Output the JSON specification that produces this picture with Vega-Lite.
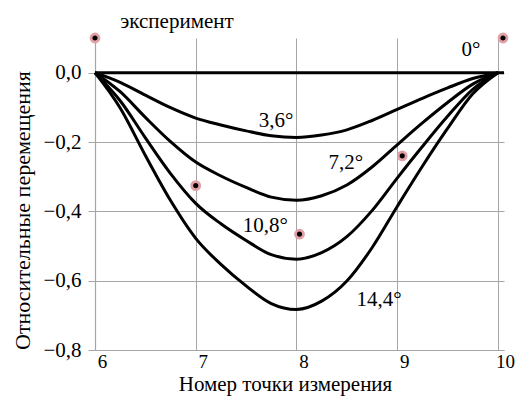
{
  "$schema": "https://vega.github.io/schema/vega-lite/v6.json",
  "autosize": "none",
  "padding": {"left": 95, "top": 38, "right": 16, "bottom": 49},
  "width": 409,
  "height": 312,
  "background": "white",
  "config": {
    "font": "Liberation Serif",
    "view": {"stroke": null},
    "axis": {
      "labelFont": "Liberation Serif", "titleFont": "Liberation Serif",
      "labelFontSize": 21, "titleFontSize": 21, "labelColor": "black", "titleColor": "black",
      "titleFontWeight": "normal", "gridColor": "#a6a6a6", "domainColor": "#a6a6a6", "tickColor": "#a6a6a6",
      "gridWidth": 1, "domainWidth": 1.2
    }
  },
  "datasets": {
    "curves": [
      {"s": "0", "x": 6, "y": 0}, {"s": "0", "x": 10.06, "y": 0},
      {"s": "3.6", "x": 6, "y": 0}, {"s": "3.6", "x": 6.25, "y": -0.028}, {"s": "3.6", "x": 6.5, "y": -0.065}, {"s": "3.6", "x": 6.75, "y": -0.101}, {"s": "3.6", "x": 7.0, "y": -0.131}, {"s": "3.6", "x": 7.25, "y": -0.151}, {"s": "3.6", "x": 7.5, "y": -0.168}, {"s": "3.6", "x": 7.75, "y": -0.182}, {"s": "3.6", "x": 8.0, "y": -0.187}, {"s": "3.6", "x": 8.25, "y": -0.18}, {"s": "3.6", "x": 8.5, "y": -0.165}, {"s": "3.6", "x": 8.75, "y": -0.138}, {"s": "3.6", "x": 9.0, "y": -0.106}, {"s": "3.6", "x": 9.25, "y": -0.074}, {"s": "3.6", "x": 9.5, "y": -0.044}, {"s": "3.6", "x": 9.75, "y": -0.017}, {"s": "3.6", "x": 10, "y": 0},
      {"s": "7.2", "x": 6, "y": 0}, {"s": "7.2", "x": 6.25, "y": -0.055}, {"s": "7.2", "x": 6.5, "y": -0.129}, {"s": "7.2", "x": 6.75, "y": -0.199}, {"s": "7.2", "x": 7.0, "y": -0.258}, {"s": "7.2", "x": 7.25, "y": -0.298}, {"s": "7.2", "x": 7.5, "y": -0.331}, {"s": "7.2", "x": 7.75, "y": -0.359}, {"s": "7.2", "x": 8.0, "y": -0.368}, {"s": "7.2", "x": 8.25, "y": -0.355}, {"s": "7.2", "x": 8.5, "y": -0.324}, {"s": "7.2", "x": 8.75, "y": -0.272}, {"s": "7.2", "x": 9.0, "y": -0.208}, {"s": "7.2", "x": 9.25, "y": -0.145}, {"s": "7.2", "x": 9.5, "y": -0.086}, {"s": "7.2", "x": 9.75, "y": -0.033}, {"s": "7.2", "x": 10, "y": 0},
      {"s": "10.8", "x": 6, "y": 0}, {"s": "10.8", "x": 6.25, "y": -0.081}, {"s": "10.8", "x": 6.5, "y": -0.188}, {"s": "10.8", "x": 6.75, "y": -0.291}, {"s": "10.8", "x": 7.0, "y": -0.377}, {"s": "10.8", "x": 7.25, "y": -0.436}, {"s": "10.8", "x": 7.5, "y": -0.484}, {"s": "10.8", "x": 7.75, "y": -0.525}, {"s": "10.8", "x": 8.0, "y": -0.538}, {"s": "10.8", "x": 8.25, "y": -0.519}, {"s": "10.8", "x": 8.5, "y": -0.473}, {"s": "10.8", "x": 8.75, "y": -0.398}, {"s": "10.8", "x": 9.0, "y": -0.304}, {"s": "10.8", "x": 9.25, "y": -0.213}, {"s": "10.8", "x": 9.5, "y": -0.126}, {"s": "10.8", "x": 9.75, "y": -0.048}, {"s": "10.8", "x": 10, "y": 0},
      {"s": "14.4", "x": 6, "y": 0}, {"s": "14.4", "x": 6.25, "y": -0.102}, {"s": "14.4", "x": 6.5, "y": -0.239}, {"s": "14.4", "x": 6.75, "y": -0.369}, {"s": "14.4", "x": 7.0, "y": -0.478}, {"s": "14.4", "x": 7.25, "y": -0.553}, {"s": "14.4", "x": 7.5, "y": -0.615}, {"s": "14.4", "x": 7.75, "y": -0.666}, {"s": "14.4", "x": 8.0, "y": -0.683}, {"s": "14.4", "x": 8.25, "y": -0.659}, {"s": "14.4", "x": 8.5, "y": -0.601}, {"s": "14.4", "x": 8.75, "y": -0.505}, {"s": "14.4", "x": 9.0, "y": -0.386}, {"s": "14.4", "x": 9.25, "y": -0.27}, {"s": "14.4", "x": 9.5, "y": -0.161}, {"s": "14.4", "x": 9.75, "y": -0.061}, {"s": "14.4", "x": 10, "y": 0}
    ],
    "points": [
      {"x": 6, "y": 0.1}, {"x": 10.05, "y": 0.1}, {"x": 7.0, "y": -0.326}, {"x": 8.03, "y": -0.466}, {"x": 9.05, "y": -0.24}
    ],
    "labels": [
      {"x": 6.814, "y": 0.146, "t": "эксперимент"},
      {"x": 9.732, "y": 0.0654, "t": "0°"},
      {"x": 7.797, "y": -0.139, "t": "3,6°"},
      {"x": 8.49, "y": -0.26, "t": "7,2°"},
      {"x": 7.69, "y": -0.442, "t": "10,8°"},
      {"x": 8.82, "y": -0.656, "t": "14,4°"}
    ]
  },
  "layer": [
    {
      "data": {"name": "curves"},
      "mark": {"type": "line", "interpolate": "monotone", "color": "black", "strokeWidth": 3},
      "encoding": {
        "x": {"field": "x", "type": "quantitative", "scale": {"domain": [6, 10.06], "nice": false, "zero": false},
          "axis": {"values": [6, 7, 8, 9, 10], "format": "d", "ticks": false, "labelPadding": 2, "labelOffset": 7, "labelFlush": false,
            "labelFont": "Liberation Serif", "labelFontSize": 19, "titleFont": "Liberation Serif", "titleFontSize": 21,
            "title": "Номер точки измерения", "titlePadding": 2, "titleX": 190, "domain": true}},
        "y": {"field": "y", "type": "quantitative", "scale": {"domain": [-0.8, 0.1], "nice": false, "zero": false},
          "axis": {"values": [0, -0.2, -0.4, -0.6, -0.8], "tickSize": 7, "labelPadding": 7,
            "labelFont": "Liberation Serif", "titleFont": "Liberation Serif", "titleFontSize": 22,
            "labelExpr": "replace(format(datum.value, '.1f'), '.', ',')",
            "title": "Относительные перемещения", "titleX": -73, "titleY": 172, "titleAlign": "center", "titleBaseline": "middle", "titleAngle": -90}},
        "detail": {"field": "s"},
        "strokeWidth": {"condition": {"test": "datum.s === '0'", "value": 4}, "value": 3}
      }
    },
    {
      "data": {"name": "points"},
      "mark": {"type": "point", "filled": true, "color": "black", "size": 64, "stroke": "#e0a0a5", "strokeWidth": 2.8, "opacity": 1},
      "encoding": {
        "x": {"field": "x", "type": "quantitative"},
        "y": {"field": "y", "type": "quantitative"}
      }
    },
    {
      "data": {"name": "labels"},
      "mark": {"type": "text", "font": "Liberation Serif", "fontSize": 21, "color": "black", "align": "center", "baseline": "middle"},
      "encoding": {
        "x": {"field": "x", "type": "quantitative"},
        "y": {"field": "y", "type": "quantitative"},
        "text": {"field": "t"}
      }
    }
  ]
}
